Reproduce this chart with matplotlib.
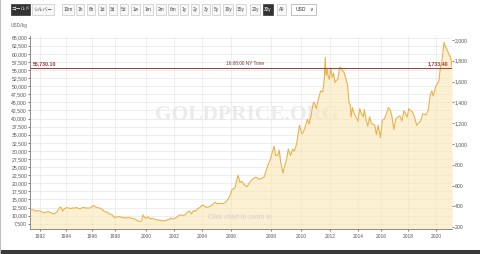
import numpy as np
import matplotlib
matplotlib.use("Agg")
import matplotlib.pyplot as plt
from matplotlib.patches import Rectangle
from matplotlib.ticker import FuncFormatter

plt.rcParams['font.family'] = ['Liberation Sans', 'Noto Sans CJK JP', 'DejaVu Sans']

OZ_PER_KG = 32.1507

# gold price, USD/oz
years = [1991.23, 1991.4, 1991.55, 1991.7, 1991.85, 1992.0, 1992.15, 1992.3, 1992.45, 1992.6,
         1992.75, 1992.9, 1993.1, 1993.25, 1993.4, 1993.55, 1993.65, 1993.75, 1993.9, 1994.05,
         1994.2, 1994.35, 1994.5, 1994.65, 1994.8, 1994.95, 1995.1, 1995.3, 1995.45, 1995.6,
         1995.75, 1995.9, 1996.05, 1996.15, 1996.3, 1996.45, 1996.6, 1996.75, 1996.9, 1997.05,
         1997.2, 1997.35, 1997.5, 1997.65, 1997.8, 1997.95, 1998.1, 1998.25, 1998.4, 1998.55,
         1998.7, 1998.85, 1999.0, 1999.15, 1999.3, 1999.45, 1999.6, 1999.72, 1999.8, 1999.9,
         2000.0, 2000.15, 2000.3, 2000.45, 2000.6, 2000.75, 2000.9, 2001.05, 2001.2, 2001.35,
         2001.5, 2001.65, 2001.75, 2001.9, 2002.05, 2002.2, 2002.35, 2002.5, 2002.65, 2002.8,
         2002.95, 2003.1, 2003.25, 2003.4, 2003.55, 2003.7, 2003.85, 2004.0, 2004.15, 2004.3,
         2004.45, 2004.6, 2004.75, 2004.9, 2005.05, 2005.2, 2005.35, 2005.5, 2005.65, 2005.8,
         2005.95, 2006.05, 2006.2, 2006.35, 2006.45, 2006.55, 2006.65, 2006.8, 2006.95, 2007.1,
         2007.25, 2007.4, 2007.55, 2007.65, 2007.75, 2007.85, 2007.95, 2008.05, 2008.2, 2008.3,
         2008.45, 2008.55, 2008.65, 2008.8, 2008.9, 2009.05, 2009.15, 2009.3, 2009.45, 2009.55,
         2009.7, 2009.9, 2010.05, 2010.15, 2010.3, 2010.45, 2010.55, 2010.7, 2010.85, 2010.95,
         2011.05, 2011.2, 2011.35, 2011.5, 2011.6, 2011.67, 2011.72, 2011.8, 2011.87, 2011.95,
         2012.05, 2012.15, 2012.25, 2012.35, 2012.45, 2012.55, 2012.7, 2012.8, 2012.9, 2013.0,
         2013.1, 2013.25, 2013.35, 2013.45, 2013.5, 2013.6, 2013.7, 2013.85, 2014.0, 2014.15,
         2014.3, 2014.45, 2014.55, 2014.7, 2014.85, 2015.0, 2015.15, 2015.3, 2015.45, 2015.6,
         2015.75, 2015.95, 2016.1, 2016.25, 2016.4, 2016.55, 2016.7, 2016.8, 2016.95, 2017.1,
         2017.25, 2017.4, 2017.55, 2017.7, 2017.85, 2017.95, 2018.05, 2018.2, 2018.35, 2018.5,
         2018.62, 2018.75, 2018.9, 2019.05, 2019.3, 2019.45, 2019.6, 2019.7, 2019.8, 2020.0,
         2020.1, 2020.2, 2020.3, 2020.43, 2020.57, 2020.65, 2020.78, 2020.93, 2021.05, 2021.14]
price_oz = [362, 368, 365, 354, 360, 355, 348, 340, 342, 350,
            345, 334, 328, 340, 368, 395, 385, 355, 380, 388,
            385, 378, 386, 383, 390, 380, 378, 390, 386, 385,
            383, 388, 402, 408, 395, 388, 386, 380, 372, 352,
            348, 342, 328, 325, 312, 292, 298, 302, 296, 292,
            288, 294, 288, 285, 278, 262, 255, 262, 318, 295,
            285, 300, 280, 285, 278, 270, 268, 264, 262, 262,
            270, 272, 288, 277, 285, 295, 315, 318, 312, 318,
            345, 355, 328, 360, 352, 380, 390, 412, 405, 390,
            395, 405, 420, 440, 425, 430, 425, 430, 445, 470,
            510, 560, 580, 700, 630, 640, 610, 590, 635, 665,
            680, 660, 670, 680, 740, 800, 840, 900, 980, 890,
            890, 940, 820, 720, 780, 860, 950, 890, 950, 930,
            1000, 1180, 1100, 1110, 1170, 1240, 1190, 1280, 1400, 1390,
            1340, 1430, 1510, 1500, 1620, 1830, 1660, 1720, 1650, 1620,
            1730, 1640, 1680, 1590, 1610, 1620, 1740, 1730, 1700, 1690,
            1640, 1570, 1400, 1370, 1260, 1350, 1300, 1260, 1220, 1340,
            1290, 1260, 1330, 1230, 1170, 1260, 1200, 1190, 1180, 1090,
            1180, 1060, 1230, 1240, 1290, 1350, 1320, 1270, 1140, 1240,
            1260, 1270, 1220, 1320, 1280, 1260, 1340, 1320, 1300, 1240,
            1180, 1200, 1220, 1290, 1280, 1330, 1480, 1510, 1460, 1560,
            1580, 1600, 1720, 1810, 1975, 1940, 1910, 1860, 1830, 1740]

REF_KG = 55730.10
REF_OZ = 1733.40

# ordinal x axis: where each year sits along the axis (pixels)
knot_years = [1991, 1992, 1994, 1996, 1998, 2000, 2002, 2004, 2006, 2008, 2010, 2012, 2014, 2016, 2018, 2020, 2022]
knot_pos = [27, 40, 66, 92, 115, 146, 174, 202, 231, 271, 301, 330, 358, 381, 408, 436, 464]
year_ticks = list(range(1992, 2021, 2))
kg_ticks = list(range(7500, 65001, 2500))
oz_ticks = list(range(200, 2001, 200))

buttons = ["10m", "1h", "6h", "1d", "3d", "5d", "1w", "1m", "2m", "6m",
           "1y", "2y", "3y", "5y", "10y", "15y", "20y", "30y", "All"]
btn_left = [62, 76, 87, 98, 109, 120, 131, 143, 156, 168, 180, 191, 202, 212, 223, 236, 250, 263, 277]
btn_right = [74, 84, 95, 106, 117, 128, 140, 153, 166, 178, 188, 199, 210, 220, 233, 246, 260, 273, 286]

W, H = 480, 254
fig = plt.figure(figsize=(4.8, 2.54), dpi=100)
ax = fig.add_axes([30 / W, 1 - 229 / H, 422 / W, 193 / H])


def fwd(x):
    return np.interp(x, knot_years, knot_pos)


def inv(p):
    return np.interp(p, knot_pos, knot_years)


ax.set_xscale('function', functions=(fwd, inv))

price_kg = np.array(price_oz) * OZ_PER_KG
ax.fill_between(years, price_kg, 0, color='#fbe6b4', alpha=0.6, lw=0, zorder=1)
ax.plot(years, price_kg, color='#e9b24a', lw=0.8, zorder=3)
ax.axhline(REF_KG, color='#a33a3a', lw=0.7, zorder=4)

ax.set_xlim(1991.23, 2021.14)
ax.set_ylim(5870, 65510)
ax.set_xticks(year_ticks)
ax.set_xticklabels([str(y) for y in year_ticks])
ax.xaxis.set_minor_locator(matplotlib.ticker.NullLocator())
ax.set_yticks(kg_ticks)
ax.yaxis.set_major_formatter(FuncFormatter(lambda v, p: f"{v:,.0f}"))
ax.grid(True, color='#e8e8e8', lw=0.5, zorder=0)
ax.set_axisbelow(True)

for s in ['top', 'right']:
    ax.spines[s].set_visible(False)
for s in ['left', 'bottom']:
    ax.spines[s].set_color('#7a7a7a')
    ax.spines[s].set_linewidth(0.6)
ax.tick_params(axis='y', length=1.5, width=0.6, color='#666666', labelsize=3.7,
               labelcolor='#555555', pad=0.6)
ax.tick_params(axis='x', length=1.5, width=0.6, color='#666666', labelsize=3.5,
               labelcolor='#555555', pad=2.2)

sec = ax.secondary_yaxis('right', functions=(lambda v: v / OZ_PER_KG, lambda v: v * OZ_PER_KG))
sec.set_yticks(oz_ticks)
sec.yaxis.set_major_formatter(FuncFormatter(lambda v, p: f"{v:,.0f}"))
sec.spines['right'].set_visible(False)
sec.tick_params(axis='y', length=1.5, width=0.6, color='#666666', labelsize=3.7,
                labelcolor='#555555', pad=0.6)

# watermark and notes
ax.text(0.515, 0.59, "GOLDPRICE.ORG", transform=ax.transAxes, ha='center', va='center',
        fontsize=15.5, fontweight='bold', family='Liberation Serif', color='#ebebeb', zorder=0.5)
ax.text(0.4976, 0.062, "Click chart to zoom in", transform=ax.transAxes, ha='center',
        va='center', fontsize=4.8, color='#cfcfcf', zorder=5)
yt = ax.get_yaxis_transform()
ax.text(0.51, REF_KG + 400, "16:08:00 NY Time", transform=yt, ha='center', va='bottom',
        fontsize=3.4, color='#7a3030', zorder=5)
ax.text(0.007, REF_KG + 400, f"{REF_KG:,.2f}", transform=yt, ha='left', va='bottom',
        fontsize=3.8, fontweight='bold', color='#a33a3a', zorder=5)
ax.text(0.9905, REF_KG + 400, f"{REF_OZ:,.2f}", transform=yt, ha='right', va='bottom',
        fontsize=3.8, fontweight='bold', color='#a33a3a', zorder=5)

fig.text(11 / W, 1 - 25 / H, "USD/kg", fontsize=3.5, color='#666666', va='center')


# range buttons across the top
def button(x0, x1, label, dark=False):
    fig.patches.append(Rectangle((x0 / W, 1 - 14.5 / H), (x1 - x0) / W, 10.5 / H,
                                 transform=fig.transFigure,
                                 facecolor='#333333' if dark else '#f7f7f7',
                                 edgecolor='#333333' if dark else '#c8c8c8', lw=0.5))
    fig.text((x0 + x1) / 2 / W, 1 - 9.3 / H, label, ha='center', va='center', fontsize=3.4,
             color='white' if dark else '#444444')


button(11, 30, "ゴールド", dark=True)
button(31.5, 54, "シルバー")
for lab, x0, x1 in zip(buttons, btn_left, btn_right):
    button(x0, x1, lab, dark=(lab == "30y"))
fig.patches.append(Rectangle((291 / W, 1 - 14.5 / H), 25 / W, 10.5 / H, transform=fig.transFigure,
                             facecolor='white', edgecolor='#aaaaaa', lw=0.5))
fig.text(296 / W, 1 - 9.3 / H, "USD", ha='left', va='center', fontsize=3.6, color='#333333')
fig.text(311 / W, 1 - 9.6 / H, "∨", ha='center', va='center', fontsize=3.6, color='#333333',
         family='DejaVu Sans')

# frame edges
fig.patches.append(Rectangle((0, 0), 1, 4 / H, transform=fig.transFigure,
                             facecolor='#3a3a3a', lw=0))
fig.patches.append(Rectangle((0, 0), 1.2 / W, 1, transform=fig.transFigure,
                             facecolor='#bdbdbd', lw=0))

fig.savefig("out.png", dpi=100)
